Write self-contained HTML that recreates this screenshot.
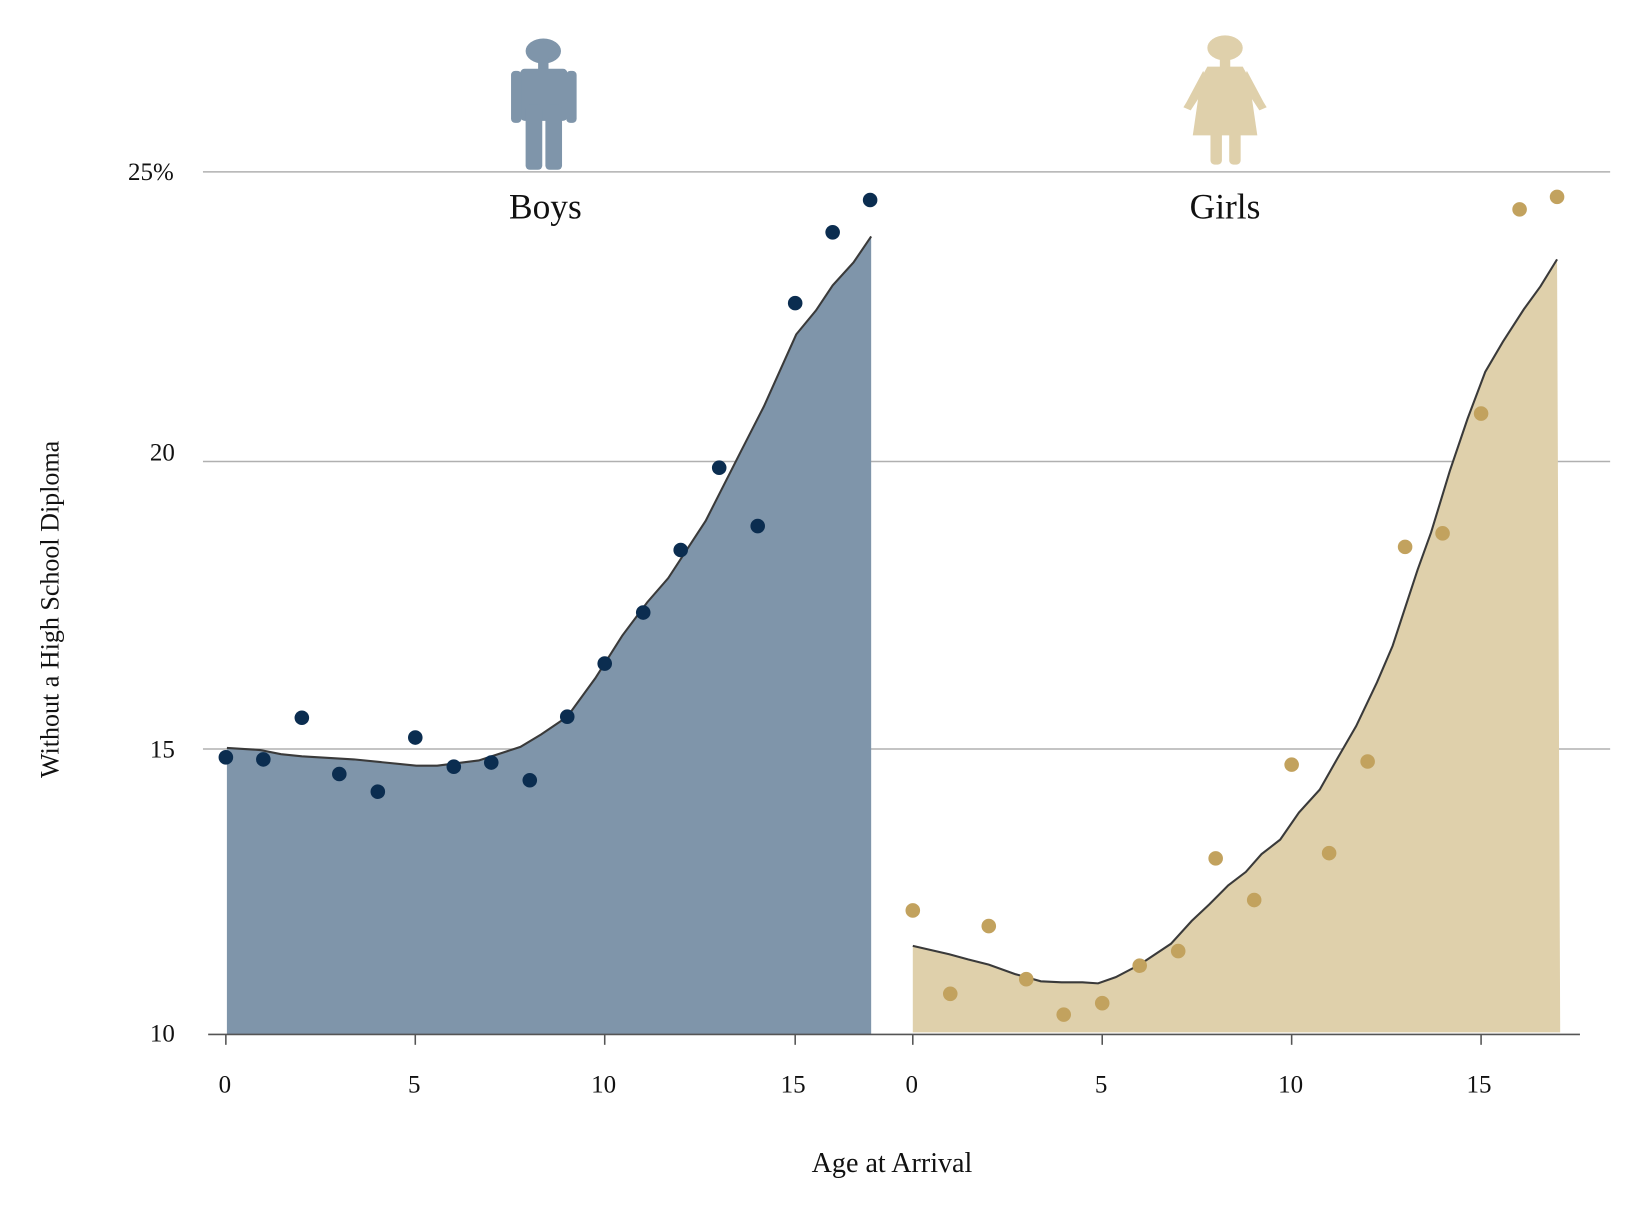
<!DOCTYPE html>
<html><head><meta charset="utf-8"><style>html,body{margin:0;padding:0;background:#fff}svg{display:block}</style></head>
<body>
<svg width="1632" height="1224" viewBox="0 0 1568 1175" preserveAspectRatio="none" xmlns="http://www.w3.org/2000/svg" font-family="Liberation Serif, serif">
<g stroke="#b0b0b0" stroke-width="1.5">
<line x1="195" y1="165" x2="1547" y2="165"/>
<line x1="195" y1="443" x2="1547" y2="443"/>
<line x1="195" y1="719" x2="1547" y2="719"/>
</g>
<path d="M218,993 L218,718 L250,720 L270,724 L290,726 L340,729 L400,735 L420,735 L460,730 L500,717 L520,705 L545,688 L572,651 L598,610 L622,578 L642,555 L678,500 L712,433 L734,390 L765,321 L784,298 L800,274 L820,252 L837,227 L837,993 Z" fill="#7f95aa"/>
<path d="M218,718 L250,720 L270,724 L290,726 L340,729 L400,735 L420,735 L460,730 L500,717 L520,705 L545,688 L572,651 L598,610 L622,578 L642,555 L678,500 L712,433 L734,390 L765,321 L784,298 L800,274 L820,252 L837,227" fill="none" stroke="#3a3a3a" stroke-width="2"/>
<path d="M877,991 L877,908 L912,916 L930,921 L950,926 L975,935 L1000,942 L1020,943 L1040,943 L1055,944 L1072,938 L1095,926 L1125,906 L1145,884 L1162,868 L1180,850 L1197,837 L1212,820 L1230,806 L1248,780 L1268,758 L1285,728 L1303,697 L1323,655 L1338,620 L1362,547 L1375,511 L1393,452 L1410,402 L1427,357 L1444,328 L1464,297 L1480,275 L1496,249 L1499,991 Z" fill="#dfd0ab"/>
<path d="M877,908 L912,916 L930,921 L950,926 L975,935 L1000,942 L1020,943 L1040,943 L1055,944 L1072,938 L1095,926 L1125,906 L1145,884 L1162,868 L1180,850 L1197,837 L1212,820 L1230,806 L1248,780 L1268,758 L1285,728 L1303,697 L1323,655 L1338,620 L1362,547 L1375,511 L1393,452 L1410,402 L1427,357 L1444,328 L1464,297 L1480,275 L1496,249" fill="none" stroke="#3a3a3a" stroke-width="2"/>
<g fill="#0b2d50">
<circle cx="217" cy="727" r="7"/><circle cx="253" cy="729" r="7"/><circle cx="290" cy="689" r="7"/><circle cx="326" cy="743" r="7"/><circle cx="363" cy="760" r="7"/><circle cx="399" cy="708" r="7"/><circle cx="436" cy="736" r="7"/><circle cx="472" cy="732" r="7"/><circle cx="509" cy="749" r="7"/><circle cx="545" cy="688" r="7"/><circle cx="581" cy="637" r="7"/><circle cx="618" cy="588" r="7"/><circle cx="654" cy="528" r="7"/><circle cx="691" cy="449" r="7"/><circle cx="728" cy="505" r="7"/><circle cx="764" cy="291" r="7"/><circle cx="800" cy="223" r="7"/><circle cx="836" cy="192" r="7"/>
</g>
<g fill="#c2a25e">
<circle cx="877" cy="874" r="7"/><circle cx="913" cy="954" r="7"/><circle cx="950" cy="889" r="7"/><circle cx="986" cy="940" r="7"/><circle cx="1022" cy="974" r="7"/><circle cx="1059" cy="963" r="7"/><circle cx="1095" cy="927" r="7"/><circle cx="1132" cy="913" r="7"/><circle cx="1168" cy="824" r="7"/><circle cx="1205" cy="864" r="7"/><circle cx="1241" cy="734" r="7"/><circle cx="1277" cy="819" r="7"/><circle cx="1314" cy="731" r="7"/><circle cx="1350" cy="525" r="7"/><circle cx="1386" cy="512" r="7"/><circle cx="1423" cy="397" r="7"/><circle cx="1460" cy="201" r="7"/><circle cx="1496" cy="189" r="7"/>
</g>
<line x1="200" y1="993" x2="1518" y2="993" stroke="#555" stroke-width="1.5"/>
<g stroke="#555" stroke-width="1.5">
<line x1="217" y1="993" x2="217" y2="1003"/><line x1="399" y1="993" x2="399" y2="1003"/><line x1="581" y1="993" x2="581" y2="1003"/><line x1="764" y1="993" x2="764" y2="1003"/>
<line x1="877" y1="993" x2="877" y2="1003"/><line x1="1059" y1="993" x2="1059" y2="1003"/><line x1="1241" y1="993" x2="1241" y2="1003"/><line x1="1423" y1="993" x2="1423" y2="1003"/>
</g>
<g font-size="24" fill="#111" text-anchor="middle">
<text x="216" y="1049">0</text><text x="398" y="1049">5</text><text x="580" y="1049">10</text><text x="762" y="1049">15</text>
<text x="876" y="1049">0</text><text x="1058" y="1049">5</text><text x="1240" y="1049">10</text><text x="1421" y="1049">15</text>
</g>
<g font-size="24" fill="#111" text-anchor="end">
<text x="167" y="173">25%</text><text x="168" y="442">20</text><text x="168" y="727">15</text><text x="168" y="1000">10</text>
</g>
<text x="524" y="210" font-size="34" text-anchor="middle" fill="#111">Boys</text>
<text x="1177" y="210" font-size="34" text-anchor="middle" fill="#111">Girls</text>
<text x="857" y="1125" font-size="27" text-anchor="middle" fill="#111">Age at Arrival</text>
<text transform="translate(56,585) rotate(-90)" font-size="25" text-anchor="middle" fill="#111">Without a High School Diploma</text>
<g fill="#7f95aa">
<ellipse cx="522" cy="49" rx="17" ry="12"/>
<rect x="517" y="56" width="10" height="12"/>
<rect x="500" y="66" width="45" height="50" rx="4"/>
<rect x="505" y="100" width="16" height="63" rx="4"/>
<rect x="524" y="100" width="16" height="63" rx="4"/>
<rect x="491" y="68" width="10" height="50" rx="4"/>
<rect x="544" y="68" width="10" height="50" rx="4"/>
</g>
<g fill="#dfd0ab">
<ellipse cx="1177" cy="46" rx="17" ry="12"/>
<rect x="1172" y="53" width="10" height="12"/>
<path d="M1160,64 L1194,64 L1200,75 L1208,130 L1146,130 L1154,75 Z"/>
<path d="M1156,68 L1140,98 L1137,103 L1144,106 L1161,80 Z"/>
<path d="M1198,68 L1214,98 L1217,103 L1210,106 L1193,80 Z"/>
<rect x="1163" y="125" width="11" height="33" rx="4"/>
<rect x="1181" y="125" width="11" height="33" rx="4"/>
</g>
</svg>
</body></html>
